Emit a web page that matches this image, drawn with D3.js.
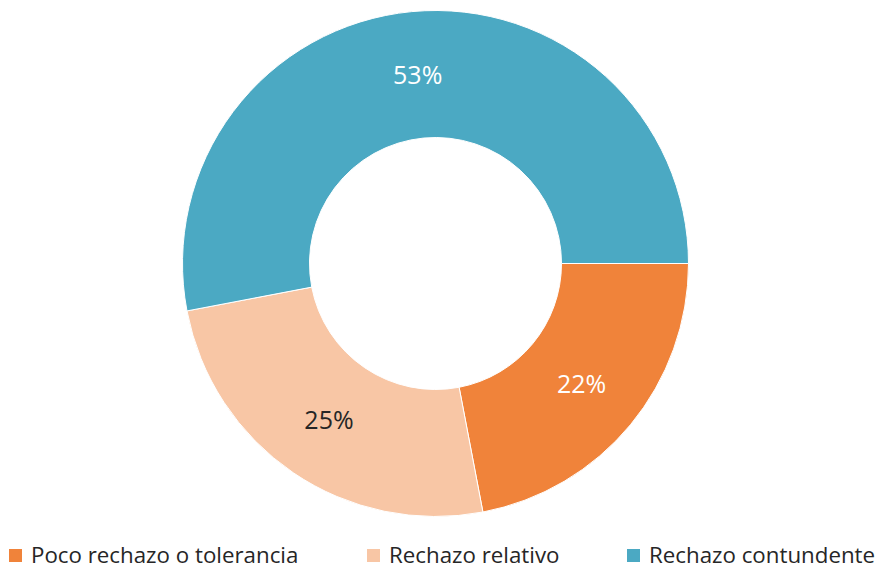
<!DOCTYPE html>
<html>
<head>
<meta charset="utf-8">
<script src="https://cdn.jsdelivr.net/npm/d3@7"></script>
<style>
  html, body { margin: 0; padding: 0; background: #ffffff; }
  svg { display: block; }
</style>
</head>
<body>
<svg id="chart" width="884" height="566"></svg>
<script>
// Share of responses per category
const categories = ["Poco rechazo o tolerancia", "Rechazo relativo", "Rechazo contundente"];
const values = [22, 25, 53];
const colors = ["#F0833A", "#F8C6A5", "#4BA9C3"];
const labelColors = ["#ffffff", "#262626", "#ffffff"];

const svg = d3.select("#chart");
const cx = 435.5, cy = 263.5;
const outerR = 253, innerR = 126;
const font = "'Open Sans', sans-serif";

const data = categories.map((c, i) => ({ name: c, value: values[i], i }));

// Start at 3 o'clock and run clockwise
const pie = d3.pie()
  .value(d => d.value)
  .sort(null)
  .startAngle(Math.PI / 2)
  .endAngle(Math.PI / 2 + 2 * Math.PI);

const arc = d3.arc().innerRadius(innerR).outerRadius(outerR);

const g = svg.append("g").attr("transform", `translate(${cx},${cy})`);
const arcs = pie(data);

g.selectAll("path.slice")
  .data(arcs)
  .join("path")
  .attr("class", "slice")
  .attr("d", arc)
  .attr("fill", d => colors[d.data.i])
  .attr("stroke", "#ffffff")
  .attr("stroke-width", 1);

g.selectAll("text.value")
  .data(arcs)
  .join("text")
  .attr("class", "value")
  .attr("transform", d => `translate(${arc.centroid(d)})`)
  .attr("text-anchor", "middle")
  .attr("dy", "0.36em")
  .attr("font-family", font)
  .attr("font-size", 25)
  .attr("fill", d => labelColors[d.data.i])
  .text(d => d.data.value + "%");

// Legend along the bottom
const legendX = [9, 367, 627];
const legend = svg.append("g").attr("class", "legend");
const items = legend.selectAll("g")
  .data(data)
  .join("g")
  .attr("transform", (d, i) => `translate(${legendX[i]},549)`);

items.append("rect")
  .attr("width", 13)
  .attr("height", 13)
  .attr("fill", d => colors[d.i]);

items.append("text")
  .attr("x", 22)
  .attr("y", 13.5)
  .attr("font-family", font)
  .attr("font-size", 22.3)
  .attr("fill", "#262626")
  .text(d => d.name);
</script>
</body>
</html>
